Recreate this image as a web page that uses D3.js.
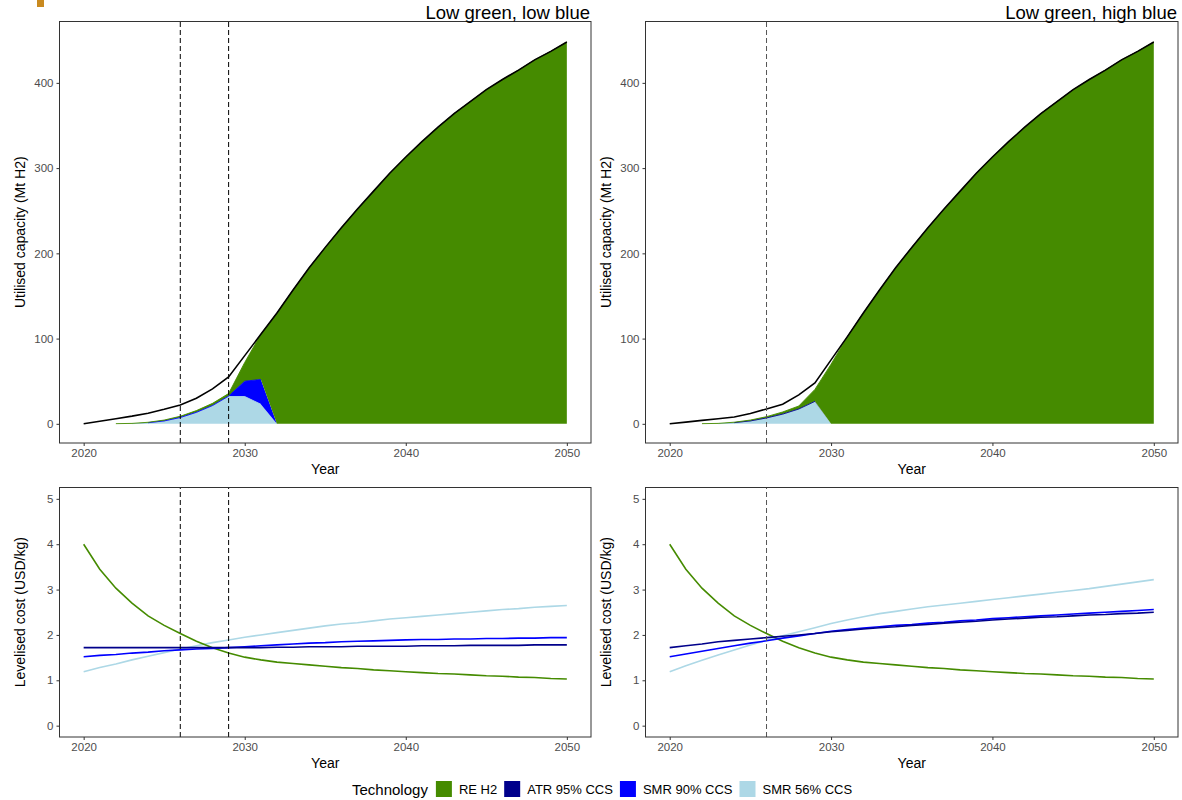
<!DOCTYPE html>
<html>
<head>
<meta charset="utf-8">
<script src="https://cdn.jsdelivr.net/npm/d3@7"></script>
<style>
  body { margin: 0; background: #fff; }
  text { font-family: "Liberation Sans", Arial, sans-serif; }
</style>
</head>
<body>
<div id="chart"></div>
<script>
// Years on the x axis
const years = [2020, 2021, 2022, 2023, 2024, 2025, 2026, 2027, 2028, 2029, 2030,
  2031, 2032, 2033, 2034, 2035, 2036, 2037, 2038, 2039, 2040,
  2041, 2042, 2043, 2044, 2045, 2046, 2047, 2048, 2049, 2050];
// areas only start in 2022
const areaYears = years.slice(2);

const technologies = ["RE H2", "ATR 95% CCS", "SMR 90% CCS", "SMR 56% CCS"];
const techColors = ["#458b00", "#00008b", "#0000ff", "#add8e6"];

const scenarios = ["Low green, low blue", "Low green, high blue"];
// dashed marker years per scenario
const markerYears = [[2026, 2029], [2026]];

// Utilised capacity (Mt H2), total demand line
const demandLow = [0, 3, 6, 9, 12.5, 17, 22, 30, 41, 55, 80, 105, 130, 157, 183, 207, 230,
  252, 273, 294, 313, 331, 348, 364, 378, 392, 404, 415, 427, 437, 448];
const demandHigh = [0, 2, 4, 6, 8, 12, 17.5, 23, 34, 48, 75, 102, 130, 157, 183, 207, 230,
  252, 273, 294, 313, 331, 348, 364, 378, 392, 404, 415, 427, 437, 448];

// Utilised capacity by technology, 2022-2050 (low blue)
const reH2Low = [0.2, 0.3, 0.5, 1, 1.5, 2, 2.5, 3, 22, 53, 130, 157, 183, 207, 230, 252, 273,
  294, 313, 331, 348, 364, 378, 392, 404, 415, 427, 437, 448];
const atrLow = [0, 0, 0, 0, 0, 0, 0, 0, 0, 0, 0, 0, 0, 0, 0, 0, 0, 0, 0, 0, 0, 0, 0, 0, 0, 0, 0, 0, 0];
const smr90Low = [0, 0, 0.3, 0.4, 0.4, 0.5, 0.5, 0.5, 18, 29, 0, 0, 0, 0, 0, 0, 0, 0, 0, 0, 0,
  0, 0, 0, 0, 0, 0, 0, 0];
const smr56Low = [0, 0.2, 1, 3, 7, 13, 21, 32, 32, 23, 0, 0, 0, 0, 0, 0, 0, 0, 0, 0, 0,
  0, 0, 0, 0, 0, 0, 0, 0];

// Utilised capacity by technology, 2022-2050 (high blue)
const reH2High = [0.2, 0.3, 0.5, 1, 1.5, 2.5, 3.5, 14, 70, 102, 130, 157, 183, 207, 230, 252, 273,
  294, 313, 331, 348, 364, 378, 392, 404, 415, 427, 437, 448];
const atrHigh = [0, 0, 0.4, 0.4, 0.4, 0.4, 0.4, 0.4, 0, 0, 0, 0, 0, 0, 0, 0, 0, 0, 0, 0, 0,
  0, 0, 0, 0, 0, 0, 0, 0];
const smr90High = [0, 0, 0, 0, 0, 0, 0, 0, 0, 0, 0, 0, 0, 0, 0, 0, 0, 0, 0, 0, 0,
  0, 0, 0, 0, 0, 0, 0, 0];
const smr56High = [0, 0.2, 1, 3, 6.5, 11, 17, 26, 0, 0, 0, 0, 0, 0, 0, 0, 0, 0, 0, 0, 0,
  0, 0, 0, 0, 0, 0, 0, 0];

// Levelised cost (USD/kg), 2020-2050
const costREH2 = [4.0, 3.45, 3.03, 2.70, 2.42, 2.21, 2.03, 1.86, 1.72, 1.60, 1.51, 1.45, 1.40,
  1.37, 1.34, 1.31, 1.28, 1.26, 1.23, 1.21, 1.19, 1.17, 1.15, 1.14, 1.12, 1.10, 1.09, 1.07,
  1.06, 1.04, 1.03];
const costATRLow = [1.72, 1.72, 1.72, 1.72, 1.72, 1.72, 1.72, 1.72, 1.72, 1.72, 1.72, 1.72,
  1.73, 1.73, 1.74, 1.74, 1.74, 1.75, 1.75, 1.75, 1.75, 1.76, 1.76, 1.76, 1.77, 1.77, 1.77,
  1.77, 1.78, 1.78, 1.78];
const costSMR90Low = [1.52, 1.55, 1.57, 1.60, 1.62, 1.65, 1.67, 1.69, 1.70, 1.72, 1.74, 1.76,
  1.78, 1.80, 1.82, 1.83, 1.85, 1.86, 1.87, 1.88, 1.89, 1.90, 1.90, 1.91, 1.91, 1.92, 1.92,
  1.93, 1.93, 1.94, 1.94];
const costSMR56Low = [1.19, 1.28, 1.36, 1.45, 1.53, 1.61, 1.69, 1.76, 1.83, 1.89, 1.95, 2.00,
  2.05, 2.10, 2.15, 2.20, 2.24, 2.27, 2.31, 2.35, 2.38, 2.41, 2.44, 2.47, 2.50, 2.53, 2.56,
  2.58, 2.61, 2.63, 2.65];
const costATRHigh = [1.72, 1.76, 1.80, 1.85, 1.88, 1.91, 1.94, 1.97, 2.00, 2.03, 2.07, 2.10,
  2.13, 2.16, 2.18, 2.21, 2.23, 2.26, 2.28, 2.30, 2.33, 2.35, 2.37, 2.39, 2.40, 2.42, 2.44,
  2.45, 2.47, 2.48, 2.50];
const costSMR90High = [1.52, 1.58, 1.64, 1.70, 1.76, 1.82, 1.87, 1.93, 1.98, 2.03, 2.08, 2.12,
  2.15, 2.18, 2.21, 2.23, 2.26, 2.28, 2.31, 2.33, 2.36, 2.38, 2.40, 2.42, 2.44, 2.46, 2.48,
  2.50, 2.52, 2.54, 2.56];
const costSMR56High = [1.19, 1.32, 1.44, 1.56, 1.67, 1.78, 1.88, 1.98, 2.07, 2.16, 2.25, 2.33,
  2.40, 2.47, 2.52, 2.57, 2.62, 2.66, 2.70, 2.74, 2.78, 2.82, 2.86, 2.90, 2.94, 2.98, 3.02,
  3.07, 3.12, 3.17, 3.22];

const xTicks = [2020, 2030, 2040, 2050];
const capTicks = [0, 100, 200, 300, 400];
const costTicks = [0, 1, 2, 3, 4, 5];

const capacityData = [
  { demand: demandLow, series: [reH2Low, atrLow, smr90Low, smr56Low] },
  { demand: demandHigh, series: [reH2High, atrHigh, smr90High, smr56High] }
];
const costData = [
  [costREH2, costATRLow, costSMR90Low, costSMR56Low],
  [costREH2, costATRHigh, costSMR90High, costSMR56High]
];

const W = 1182, H = 800;
const columns = [{ left: 59.5, right: 591 }, { left: 645.5, right: 1178 }];
const topRow = { top: 21.5, bottom: 443 };
const bottomRow = { top: 487.5, bottom: 737 };
const markerColors = ["#000", "#555"];

const svg = d3.select("#chart").append("svg")
  .attr("width", W)
  .attr("height", H);

// small orange mark at the top left corner
svg.append("rect")
  .attr("x", 37).attr("y", 0)
  .attr("width", 7).attr("height", 7)
  .attr("fill", "#c98a1f");

function drawFrame(g, x, y, xAxisTicks, yAxisTicks) {
  const xr = x.range(), yr = y.range();

  let xAxis = g.append("g")
    .attr("transform", "translate(0," + yr[0] + ")")
    .call(d3.axisBottom(x).tickValues(xAxisTicks).tickFormat(d3.format("d")).tickSize(3).tickPadding(3));
  let yAxis = g.append("g")
    .attr("transform", "translate(" + xr[0] + ",0)")
    .call(d3.axisLeft(y).tickValues(yAxisTicks).tickFormat(d3.format("d")).tickSize(3).tickPadding(3));

  [xAxis, yAxis].forEach(a => {
    a.select(".domain").remove();
    a.selectAll("line").attr("stroke", "#333");
    a.selectAll("text").attr("fill", "#4d4d4d").style("font-size", "11.5px");
  });

  g.append("rect")
    .attr("x", xr[0]).attr("y", yr[1])
    .attr("width", xr[1] - xr[0]).attr("height", yr[0] - yr[1])
    .attr("fill", "none")
    .attr("stroke", "#333")
    .attr("stroke-width", 1);
}

function drawMarkers(g, x, y, idx) {
  g.selectAll(null)
    .data(markerYears[idx])
    .join("line")
    .attr("x1", d => x(d)).attr("x2", d => x(d))
    .attr("y1", y.range()[0]).attr("y2", y.range()[1])
    .attr("stroke", markerColors[idx])
    .attr("stroke-width", 1)
    .attr("stroke-dasharray", "5,3");
}

function axisTitles(g, x, y, yText) {
  const xr = x.range(), yr = y.range();
  g.append("text")
    .attr("x", (xr[0] + xr[1]) / 2)
    .attr("y", yr[0] + 31)
    .attr("text-anchor", "middle")
    .style("font-size", "14px")
    .text("Year");
  g.append("text")
    .attr("transform", "translate(" + (xr[0] - 35) + "," + ((yr[0] + yr[1]) / 2) + ") rotate(-90)")
    .attr("text-anchor", "middle")
    .style("font-size", "14px")
    .text(yText);
}

columns.forEach((col, i) => {
  // ---- capacity panel ----
  const x = d3.scaleLinear().domain([2018.5, 2051.5]).range([col.left, col.right]);
  const yCap = d3.scaleLinear().domain([-22.5, 472]).range([topRow.bottom, topRow.top]);
  const gTop = svg.append("g");

  const rows = areaYears.map((yr, k) => {
    const r = { year: yr };
    technologies.forEach((t, j) => { r[t] = capacityData[i].series[j][k]; });
    return r;
  });
  // first level on top, as ggplot stacks
  const stack = d3.stack().keys(technologies.slice().reverse());
  const layers = stack(rows);
  const area = d3.area()
    .x(d => x(d.data.year))
    .y0(d => yCap(d[0]))
    .y1(d => yCap(d[1]));

  gTop.selectAll(null)
    .data(layers)
    .join("path")
    .attr("d", area)
    .attr("fill", d => techColors[technologies.indexOf(d.key)]);

  // thin edge where a layer is present but too small to see
  const edge = d3.line()
    .defined(d => d[1] - d[0] > 0.05)
    .x(d => x(d.data.year))
    .y(d => yCap(d[1]));
  gTop.selectAll(null)
    .data(layers)
    .join("path")
    .attr("d", edge)
    .attr("fill", "none")
    .attr("stroke", d => techColors[technologies.indexOf(d.key)])
    .attr("stroke-width", 0.9);

  gTop.append("path")
    .datum(capacityData[i].demand)
    .attr("d", d3.line().x((d, k) => x(years[k])).y(d => yCap(d)))
    .attr("fill", "none")
    .attr("stroke", "#000")
    .attr("stroke-width", 1.6);

  drawMarkers(gTop, x, yCap, i);
  drawFrame(gTop, x, yCap, xTicks, capTicks);
  axisTitles(gTop, x, yCap, "Utilised capacity (Mt H2)");

  gTop.append("text")
    .attr("x", col.right - 1)
    .attr("y", 19)
    .attr("text-anchor", "end")
    .style("font-size", "18.5px")
    .text(scenarios[i]);

  // ---- cost panel ----
  const yCost = d3.scaleLinear().domain([-0.25, 5.25]).range([bottomRow.bottom, bottomRow.top]);
  const gBot = svg.append("g");
  const line = d3.line().x((d, k) => x(years[k])).y(d => yCost(d));

  // draw light blue first so darker lines sit on top
  [3, 0, 2, 1].forEach(j => {
    gBot.append("path")
      .datum(costData[i][j])
      .attr("d", line)
      .attr("fill", "none")
      .attr("stroke", techColors[j])
      .attr("stroke-width", 1.6);
  });

  drawMarkers(gBot, x, yCost, i);
  drawFrame(gBot, x, yCost, xTicks, costTicks);
  axisTitles(gBot, x, yCost, "Levelised cost (USD/kg)");
});

// ---- legend ----
const legend = svg.append("g").attr("transform", "translate(352,789)");
const legTitle = legend.append("text")
  .attr("y", 5.5)
  .style("font-size", "15px")
  .text("Technology");
let cursor = legTitle.node().getComputedTextLength() + 8;
technologies.forEach((t, j) => {
  legend.append("rect")
    .attr("x", cursor).attr("y", -8)
    .attr("width", 16).attr("height", 16)
    .attr("fill", techColors[j]);
  const lbl = legend.append("text")
    .attr("x", cursor + 23)
    .attr("y", 5)
    .style("font-size", "13px")
    .text(t);
  cursor += 23 + lbl.node().getComputedTextLength() + 7;
});
</script>
</body>
</html>
